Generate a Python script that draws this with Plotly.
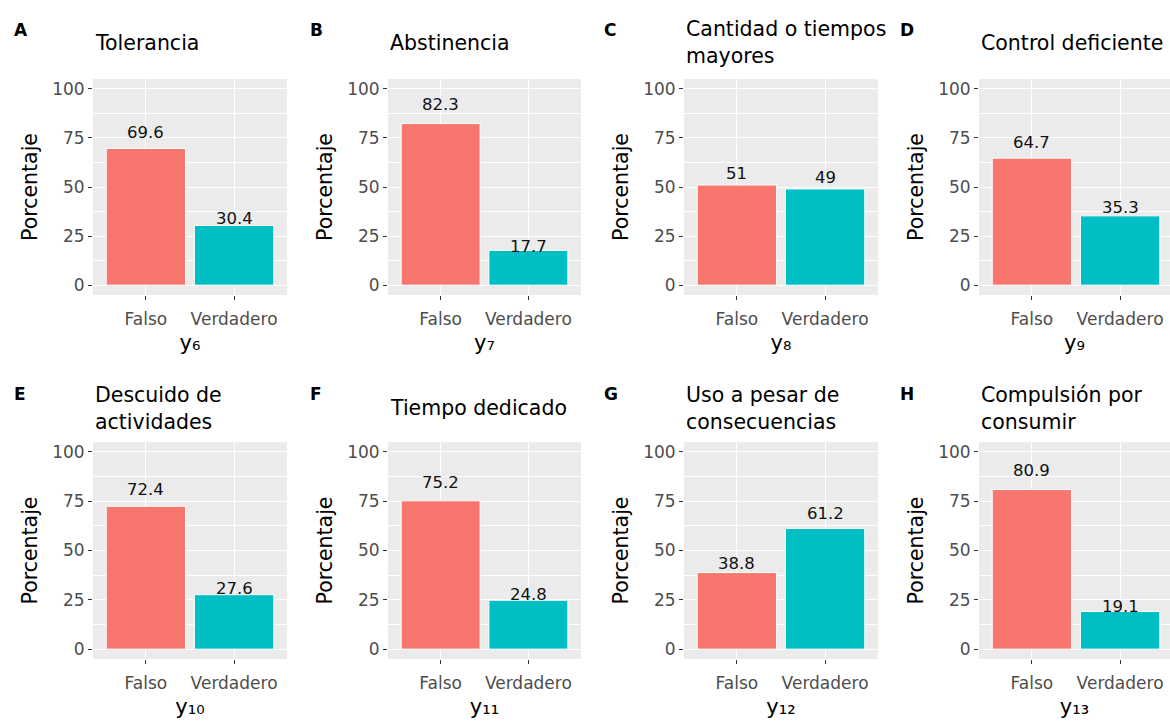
import plotly.graph_objects as go

# Panel content
panel_tags = ["A", "B", "C", "D", "E", "F", "G", "H"]
panel_titles = [
    "Tolerancia",
    "Abstinencia",
    "Cantidad o tiempos<br>mayores",
    "Control deficiente",
    "Descuido de<br>actividades",
    "Tiempo dedicado",
    "Uso a pesar de<br>consecuencias",
    "Compulsión por<br>consumir",
]
x_titles = ["y₆", "y₇", "y₈", "y₉", "y₁₀", "y₁₁", "y₁₂", "y₁₃"]
categories = ["Falso", "Verdadero"]
falso_pct = [69.6, 82.3, 51, 64.7, 72.4, 75.2, 38.8, 80.9]
verdadero_pct = [30.4, 17.7, 49, 35.3, 27.6, 24.8, 61.2, 19.1]
y_ticks = [0, 25, 50, 75, 100]
y_minor = [12.5, 37.5, 62.5, 87.5]

W, H = 1170, 721
FONT = "DejaVu Sans"
BAR_COLORS = ["#F8766D", "#00BFC4"]

# Plot-panel geometry in pixels
col_px = [(93, 287), (388, 581), (684, 878), (979, 1170)]
row_px = [(79, 295), (442, 659)]
tag_x_px = [12, 308, 602, 898]
tag_y_px = [30, 394]
title_y_px = [43, 408]


def px_x(p):
    return p / W


def px_y(p):
    return 1 - p / H


fig = go.Figure()
layout = dict(
    width=W, height=H,
    margin=dict(l=0, r=0, t=0, b=0),
    paper_bgcolor="white",
    plot_bgcolor="#EBEBEB",
    showlegend=False,
    font=dict(family=FONT, color="#000000"),
    annotations=[],
)

for i in range(8):
    r, c = divmod(i, 4)
    n = i + 1
    xa = "x" if n == 1 else f"x{n}"
    ya = "y" if n == 1 else f"y{n}"
    vals = [falso_pct[i], verdadero_pct[i]]

    fig.add_trace(go.Bar(
        x=categories, y=vals, width=0.9,
        marker=dict(color=BAR_COLORS, line=dict(color="white", width=1)),
        xaxis=xa, yaxis=ya, hoverinfo="x+y",
    ))

    # value labels above each bar
    for cat, v in zip(categories, vals):
        layout["annotations"].append(dict(
            text=f"{v:g}", xref=xa, yref=ya, x=cat, y=v * 1.12,
            xanchor="center", yanchor="middle", showarrow=False,
            font=dict(family=FONT, size=16.5, color="#111111"),
        ))

    x0, x1 = col_px[c]
    y0, y1 = row_px[r]
    # the right-most column is cut at the page edge
    x_hi = 1.6 - (3 / 88.2 if c == 3 else 0)

    layout["xaxis" if n == 1 else f"xaxis{n}"] = dict(
        domain=[px_x(x0), px_x(x1)], anchor=ya,
        type="category", range=[-0.6, x_hi],
        showgrid=True, gridcolor="white", gridwidth=1.4,
        ticks="outside", ticklen=4, tickwidth=1, tickcolor="#333333",
        ticklabelstandoff=5,
        tickfont=dict(family=FONT, size=17, color="#4D4D4D"),
        showline=False, zeroline=False, fixedrange=True,
        title=dict(text=x_titles[i], font=dict(family=FONT, size=21, color="#000000"),
                   standoff=6),
    )
    layout["yaxis" if n == 1 else f"yaxis{n}"] = dict(
        domain=[px_y(y1), px_y(y0)], anchor=xa,
        range=[-5, 105], tickvals=y_ticks,
        showgrid=True, gridcolor="white", gridwidth=1.4,
        minor=dict(tickvals=y_minor, showgrid=True, gridcolor="white",
                   gridwidth=0.7, ticks=""),
        ticks="outside", ticklen=4, tickwidth=1, tickcolor="#333333",
        tickfont=dict(family=FONT, size=17, color="#4D4D4D"),
        showline=False, zeroline=False, fixedrange=True,
        title=dict(text="Porcentaje", font=dict(family=FONT, size=20.5, color="#000000"),
                   standoff=8),
    )

    layout["annotations"].append(dict(
        text=panel_titles[i], xref="paper", yref="paper",
        x=px_x(x0), y=px_y(title_y_px[r]), xanchor="left", yanchor="middle",
        align="left", showarrow=False,
        font=dict(family=FONT, size=20.5, color="#000000"),
    ))
    layout["annotations"].append(dict(
        text=panel_tags[i], xref="paper", yref="paper",
        x=px_x(tag_x_px[c]), y=px_y(tag_y_px[r]), xanchor="left", yanchor="middle",
        showarrow=False,
        font=dict(family=FONT, size=17, color="#000000", weight="bold"),
    ))

fig.update_layout(**layout)
fig.write_html("out.html")
